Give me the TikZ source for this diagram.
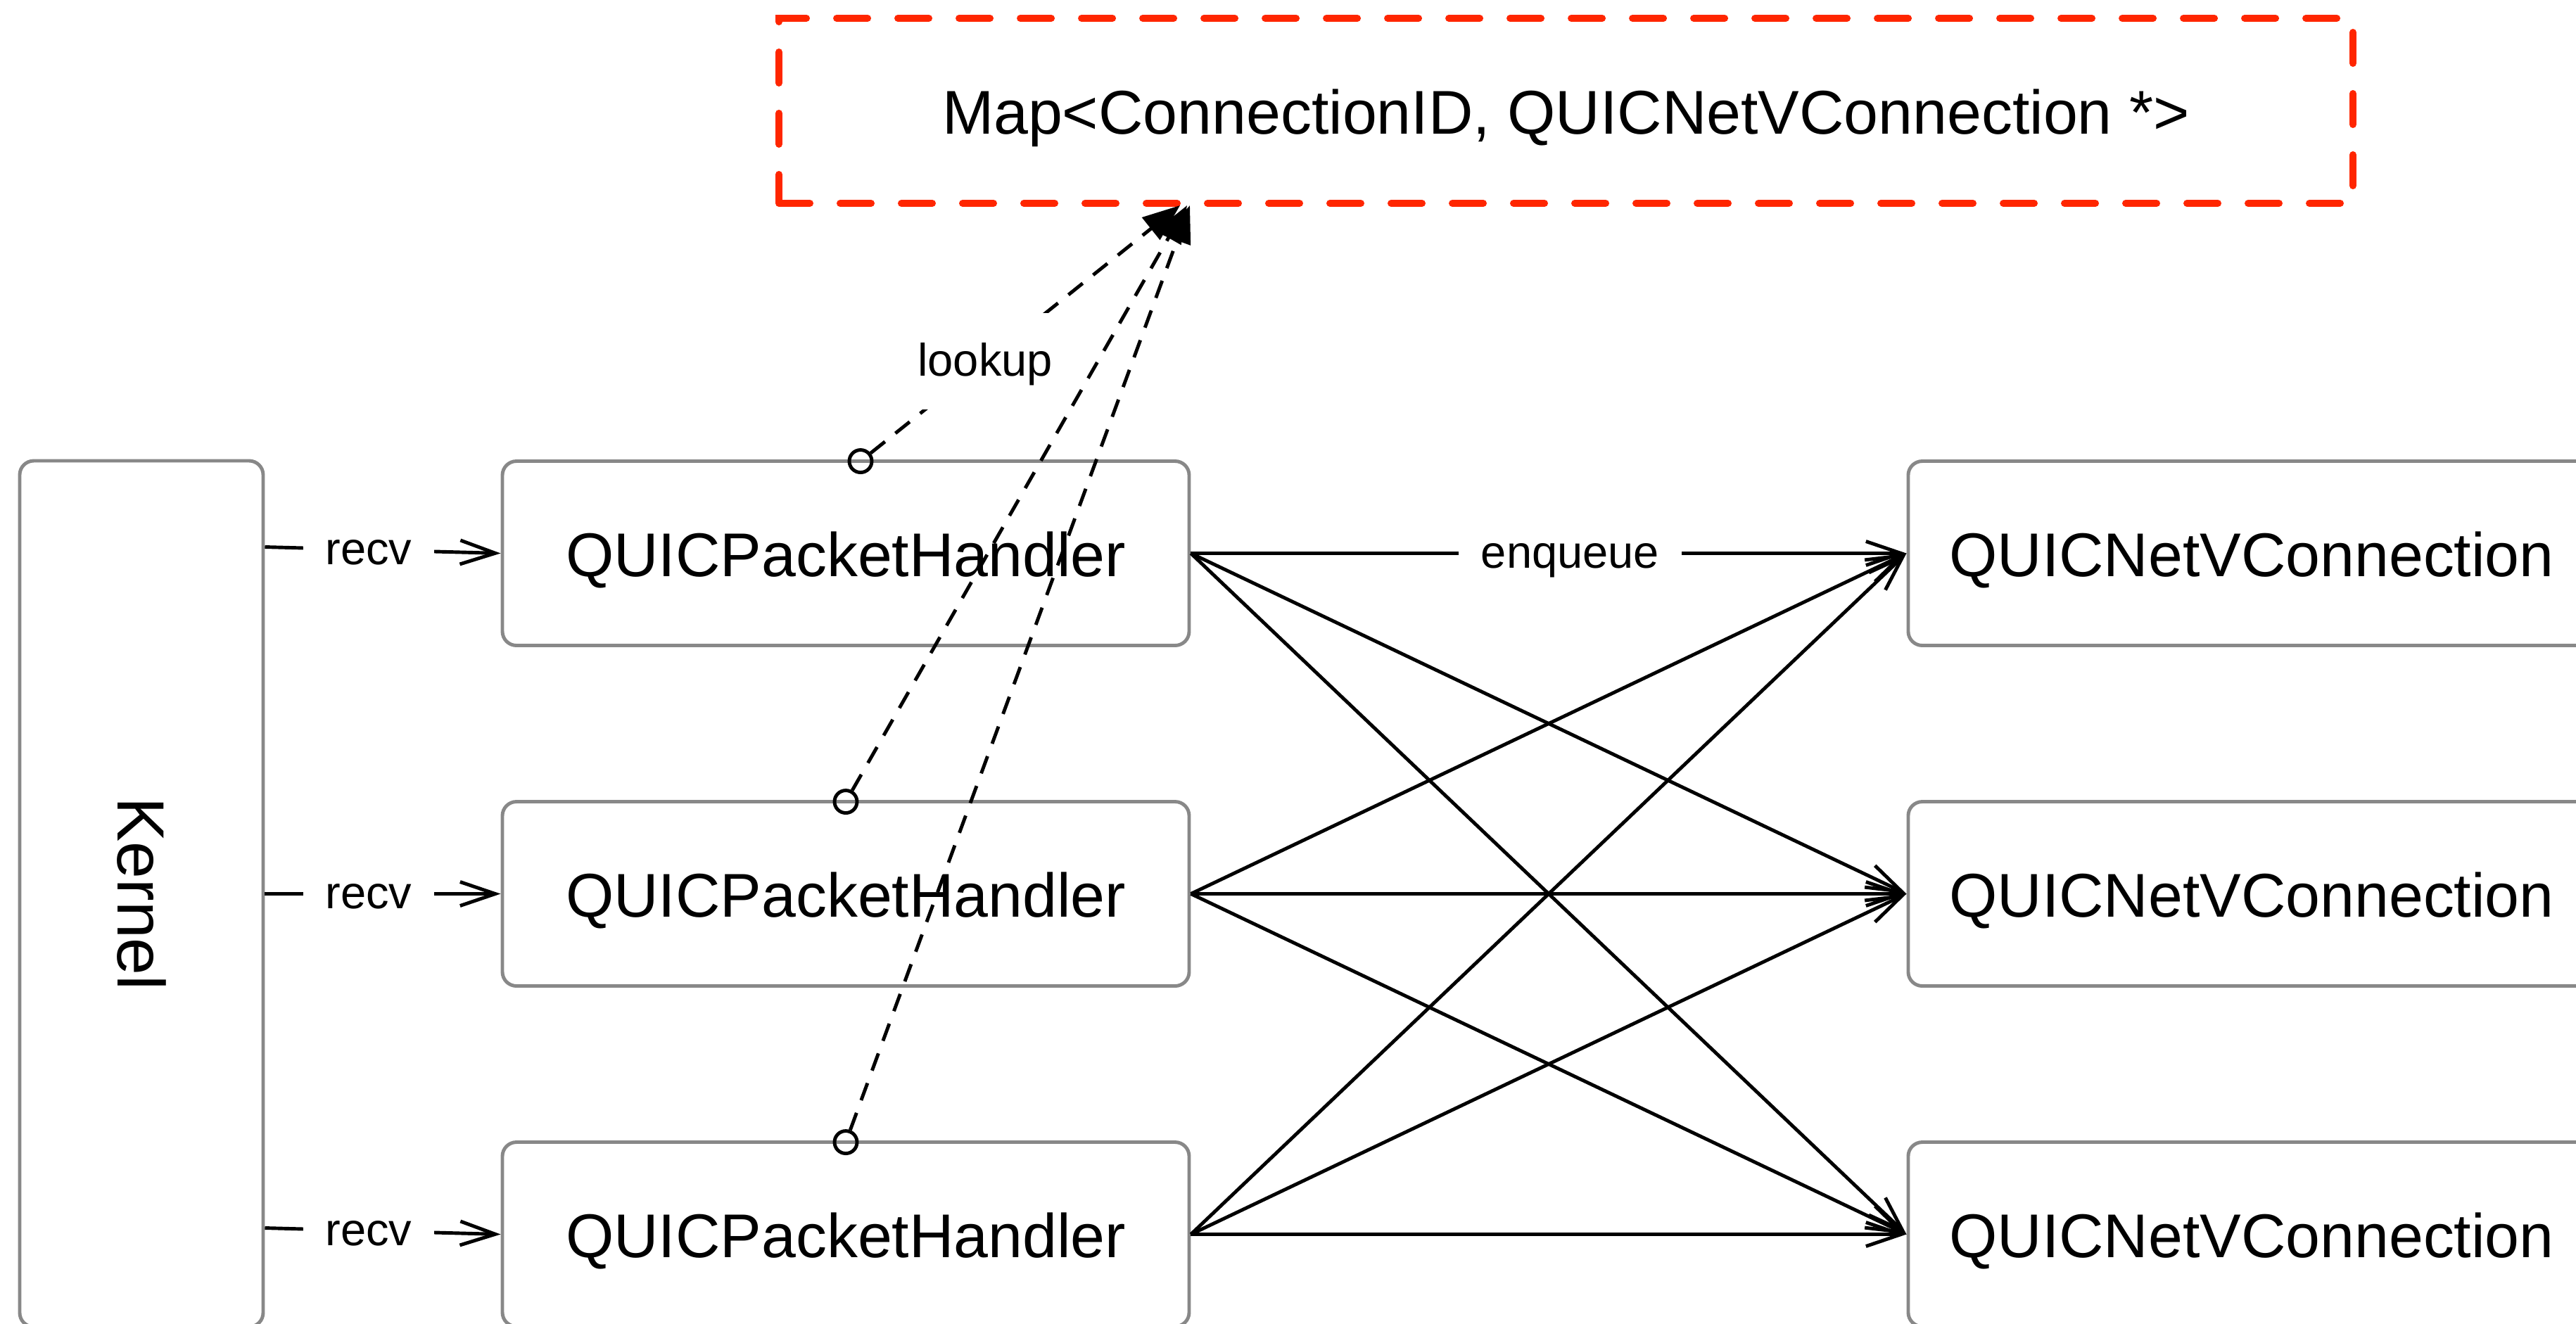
\documentclass[tikz,border=0pt]{standalone}
\usepackage{graphicx}
\usepackage{fontspec}
\setmainfont{Liberation Sans}
\usetikzlibrary{arrows.meta,calc,positioning}
\definecolor{mapred}{RGB}{255,38,0}
\definecolor{boxgray}{RGB}{136,136,136}

\begin{document}
\begin{tikzpicture}[node distance= 4.84cm, line width=1.4pt]
      \useasboundingbox (0,0) rectangle (36.61,-18.81);
      \clip (0,0) rectangle (36.61,-18.81);
      \begin{scope}[every node/.style={rectangle,rounded corners=0.2cm,draw=boxgray,fill=white,
          minimum width=9.76cm,minimum height=2.62cm,text height=22pt,text depth=3.2pt,
          font=\fontsize{25}{30}\selectfont}]
        \node (h1) at (12.02,-7.865) {QUICPacketHandler};
        \node (h2) [below of= h1] {QUICPacketHandler};
        \node (h3) [below of= h2] {QUICPacketHandler};
        \node (c1) [right= 10.17cm of h1] {QUICNetVConnection};
        \node (c2) [below of= c1] {QUICNetVConnection};
        \node (c3) [below of= c2] {QUICNetVConnection};
        \node (kernel) [minimum width=3.46cm,minimum height=12.31cm,text height=,text depth=,
          font=\fontsize{27}{32}\selectfont] at (2.01,-12.705) {\rotatebox{-90}{Kernel}};
      \end{scope}
      \node (map) [draw=mapred,line width=2.85pt,dash pattern=on 0.44cm off 0.43cm,line cap=round,
        minimum width=22.37cm,minimum height=2.63cm,text height=22pt,text depth=3.2pt,
        font=\fontsize{25}{30}\selectfont]
        at (22.255,-1.575) {Map<ConnectionID, QUICNetVConnection *>};
      \begin{scope}
        [every edge/.style={draw= black,line width=1.4pt,-{Straight Barb[length=0.5cm,width=0.34cm]}},
        every node/.style={fill= white,inner xsep=9pt,inner ysep=9.5pt,text height=16pt,text depth=4pt,
          font=\fontsize{18.5}{22}\selectfont}]
        \path ($(kernel.east |- h1)+(0,0.09)$) edge node[pos=0.44] {recv} (h1.west);
        \path (kernel.east |- h2) edge node[pos=0.44] {recv} (h2.west);
        \path ($(kernel.east |- h3)+(0,0.09)$) edge node[pos=0.44] {recv} (h3.west);
        \path (h1.east) edge node[pos=0.53] {enqueue} (c1.west);
        \path (h1.east) edge (c2.west);
        \path (h1.east) edge (c3.west);
        \path (h2.east) edge (c1.west);
        \path (h2.east) edge (c2.west);
        \path (h2.east) edge (c3.west);
        \path (h3.east) edge (c1.west);
        \path (h3.east) edge (c2.west);
        \path (h3.east) edge (c3.west);
      \end{scope}
      \begin{scope}[every node/.style={circle,draw,minimum size=0.32cm,inner sep=0pt}]
        \node (p1) at ($(h1.north)+(0.21,-0.025)$) {};
        \node (p2) at ($(h2.north)+(0,-0.025)$) {};
        \node (p3) at ($(h3.north)+(0,-0.025)$) {};
      \end{scope}
      \coordinate (m1) at ($(map.south west)+(5.75,0.02)$);
      \coordinate (m2) at ($(map.south west)+(5.85,0.02)$);
      \coordinate (m3) at ($(map.south west)+(5.89,0.02)$);
      \begin{scope}
        [every edge/.style={draw= black,line width=1.4pt,dash pattern=on 0.26cm off 0.19cm,
          -{Triangle[length=0.53cm,width=0.4cm]}},
        every node/.style={fill= white,inner xsep=9pt,inner ysep=9.5pt,text height=16pt,text depth=4pt,
          font=\fontsize{18.5}{22}\selectfont}]
        \path (p1) edge node[pos=0.37] {lookup} (m1);
        \path (p2) edge (m2);
        \path (p3) edge (m3);
      \end{scope}
    \end{tikzpicture}
\end{document}
